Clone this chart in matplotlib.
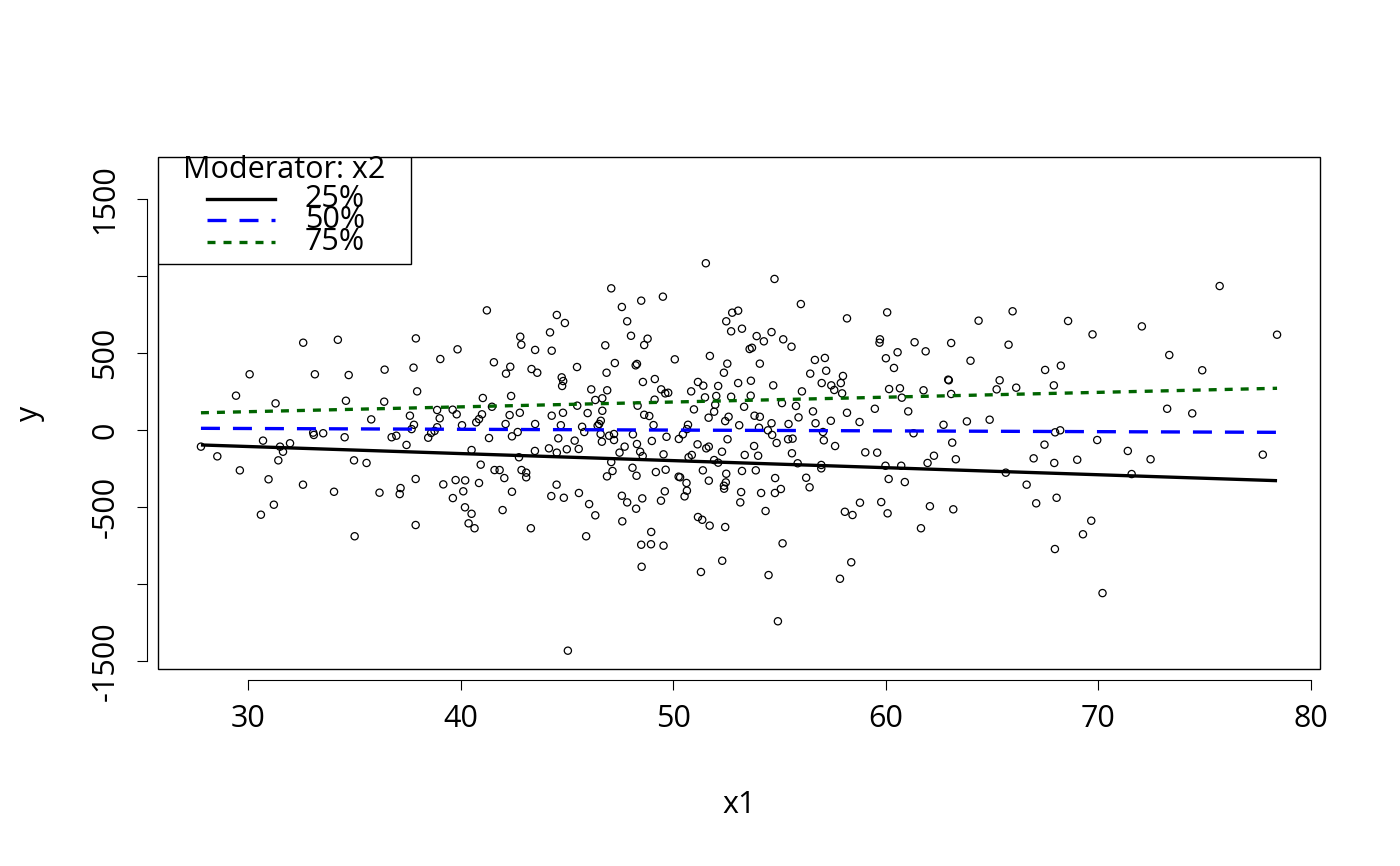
import matplotlib
matplotlib.use("Agg")
import matplotlib.pyplot as plt
from matplotlib.patches import Rectangle

plt.rcParams['font.family'] = ['Open Sans', 'DejaVu Sans']

# points, grouped 10 per row
x1 = [32.60, 34.23, 30.08, 33.15, 34.74, 29.44, 31.30, 34.61, 33.07, 33.10,
      33.54, 34.55, 30.71, 31.51, 31.98, 27.79, 31.65, 28.56, 31.43, 34.99,
      29.62, 30.97, 32.59, 34.05, 31.22, 30.61, 35.02, 41.24, 37.90, 39.86,
      39.05, 36.43, 37.79, 41.57, 42.81, 42.86, 43.51, 44.21, 44.29, 42.34,
      42.14, 43.34, 43.61, 37.96, 36.41, 41.05, 42.38, 35.80, 37.62, 38.90,
      39.02, 39.63, 39.82, 41.48, 42.31, 42.79, 44.29, 37.81, 37.70, 38.90,
      38.78, 38.62, 38.48, 40.07, 40.74, 40.87, 41.01, 42.12, 43.51, 36.76,
      36.98, 37.46, 41.34, 42.42, 42.69, 40.52, 43.50, 44.16, 42.75, 35.58,
      40.95, 41.60, 41.84, 42.06, 42.87, 43.09, 43.09, 37.89, 37.18, 37.14,
      36.19, 39.19, 39.77, 40.22, 40.13, 40.87, 39.64, 42.42, 44.27, 40.21,
      40.52, 41.98, 40.38, 40.66, 37.89, 43.31, 51.54, 47.09, 48.50, 49.52,
      47.59, 44.53, 44.91, 47.84, 48.02, 48.80, 48.64, 46.81, 52.50, 52.78,
      53.06, 52.73, 53.24, 51.73, 50.08, 47.26, 48.24, 48.30, 45.48, 46.87,
      52.55, 52.39, 44.76, 44.83, 44.78, 49.14, 48.58, 51.17, 51.42, 52.12,
      53.06, 46.15, 46.90, 49.44, 49.63, 49.77, 50.85, 51.50, 52.03, 52.73,
      46.34, 46.67, 49.13, 45.49, 48.33, 51.98, 53.34, 46.67, 45.98, 44.82,
      50.98, 51.93, 48.64, 48.88, 51.67, 52.61, 52.45, 46.60, 46.52, 46.45,
      49.08, 44.72, 45.72, 50.70, 50.65, 50.46, 50.27, 53.11, 45.82, 46.59,
      46.99, 47.22, 47.22, 48.11, 49.69, 44.60, 45.37, 46.65, 49.00, 52.56,
      48.30, 51.15, 51.68, 51.56, 45.00, 45.56, 47.72, 44.53, 47.48, 48.45,
      48.57, 49.55, 50.73, 50.88, 52.30, 53.37, 47.09, 47.15, 46.89, 48.09,
      48.28, 49.19, 49.65, 50.26, 50.33, 50.63, 50.65, 50.54, 51.40, 51.68,
      51.93, 52.12, 52.50, 52.48, 52.39, 52.40, 53.24, 53.20, 53.16, 44.52,
      44.86, 45.57, 46.05, 46.34, 47.59, 47.84, 48.26, 48.55, 47.61, 49.61,
      49.43, 45.91, 48.97, 48.50, 48.96, 49.55, 51.17, 51.37, 51.72, 52.45,
      48.52, 51.31, 52.31, 45.05, 54.77, 56.01, 58.18, 60.07, 53.93, 54.27,
      54.63, 53.60, 53.71, 55.18, 55.57, 54.08, 56.67, 57.14, 57.20, 56.45,
      59.73, 59.71, 61.36, 61.88, 60.56, 60.01, 60.39, 53.66, 54.71, 53.65,
      56.06, 56.99, 57.44, 57.58, 57.89, 57.99, 57.95, 60.16, 60.67, 60.76,
      61.78, 55.12, 55.78, 55.90, 56.58, 58.18, 59.49, 61.06, 53.83, 54.08,
      54.04, 54.46, 54.63, 54.66, 55.43, 56.70, 57.42, 58.77, 57.05, 57.09,
      61.31, 54.87, 55.41, 55.62, 53.81, 57.62, 54.00, 55.59, 59.04, 59.60,
      62.27, 55.86, 56.97, 56.97, 59.99, 60.73, 61.97, 53.89, 54.80, 56.26,
      56.42, 60.14, 60.90, 54.14, 54.79, 55.07, 54.35, 58.79, 58.08, 58.44,
      59.79, 60.09, 62.08, 61.66, 55.15, 58.38, 57.85, 54.49, 54.93, 65.97,
      64.37, 68.58, 69.73, 63.08, 65.78, 63.99, 67.50, 68.24, 62.94, 62.97,
      65.36, 65.22, 66.14, 67.91, 63.08, 62.72, 63.82, 64.89, 67.97, 68.21,
      63.13, 67.47, 69.95, 71.39, 63.30, 66.96, 67.93, 69.01, 65.65, 66.63,
      67.08, 68.04, 63.18, 69.67, 69.28, 67.96, 70.20, 71.57, 75.71, 72.05,
      78.41, 73.34, 74.89, 73.24, 74.42, 72.46, 77.74]

y = [567, 586, 362, 362, 357, 223, 173, 190, -17, -32,
     -21, -47, -69, -108, -86, -108, -141, -171, -197, -197,
     -262, -320, -355, -401, -485, -550, -690, 777, 595, 524,
     461, 392, 405, 440, 606, 554, 520, 634, 515, 411,
     366, 396, 372, 251, 184, 208, 221, 69, 93, 130,
     76, 132, 102, 151, 97, 112, 93, 34, 6, 18,
     -6, -19, -50, 31, 50, 71, 102, 39, 39, -47,
     -37, -97, -52, -41, -13, -130, -136, -119, -177, -214,
     -225, -260, -260, -312, -260, -277, -307, -318, -377, -416,
     -407, -353, -325, -327, -398, -344, -442, -401, -429, -502,
     -544, -520, -606, -638, -617, -638, 1083, 920, 840, 866,
     799, 747, 695, 706, 612, 593, 552, 550, 706, 762,
     775, 641, 658, 481, 459, 435, 420, 429, 409, 372,
     431, 372, 342, 318, 286, 331, 312, 312, 288, 286,
     305, 264, 258, 264, 238, 242, 251, 212, 221, 216,
     195, 206, 197, 158, 158, 164, 151, 125, 110, 112,
     134, 119, 99, 91, 80, 86, 58, 60, 39, 28,
     32, 31, 21, 34, 6, -28, -58, 31, -13, -26,
     -37, -26, -65, -28, -44, -54, -69, -76, -71, -60,
     -91, -93, -108, -119, -125, -123, -108, -147, -147, -141,
     -169, -158, -177, -162, -141, -162, -208, -266, -301, -245,
     -297, -273, -258, -303, -307, -344, -394, -431, -262, -329,
     -195, -212, -284, -340, -362, -381, -266, -403, -470, -355,
     -440, -409, -481, -554, -427, -470, -511, -444, -593, -398,
     -459, -690, -662, -745, -742, -751, -565, -583, -621, -630,
     -888, -922, -849, -1433, 981, 818, 725, 764, 610, 576,
     636, 526, 534, 589, 541, 431, 455, 468, 385, 366,
     589, 567, 570, 511, 505, 466, 403, 320, 290, 223,
     251, 305, 290, 260, 305, 351, 238, 266, 271, 210,
     258, 175, 156, 82, 121, 112, 138, 121, 93, 86,
     15, -2, 44, -32, 39, 44, 60, 52, -13, -67,
     -21, -84, -60, -56, -104, -104, -167, -151, -145, -147,
     -167, -216, -227, -249, -232, -232, -214, -262, -312, -310,
     -372, -318, -338, -409, -409, -383, -526, -472, -531, -552,
     -468, -541, -495, -638, -736, -859, -966, -942, -1242, 771,
     710, 708, 621, 565, 554, 450, 390, 418, 327, 323,
     323, 264, 275, 290, 234, 34, 56, 67, -15, -2,
     -82, -95, -65, -136, -190, -184, -214, -193, -277, -355,
     -476, -440, -515, -589, -677, -773, -1059, -286, 935, 673,
     619, 487, 388, 138, 108, -190, -160]

# fitted lines at the three moderator quantiles (ends at min / max of x1)
line_x = [27.79, 78.41]
y_q25 = [-97, -329]
y_q50 = [11, -15]
y_q75 = [112, 271]
quant_labels = ['25%', '50%', '75%']
legend_title = 'Moderator: x2'

x_ticks = [30, 40, 50, 60, 70, 80]
y_ticks = [-1500, -1000, -500, 0, 500, 1000, 1500]
y_ticklabels = ['-1500', '', '-500', '0', '500', '', '1500']

FS = 22

fig = plt.figure(figsize=(14, 8.66), dpi=100)
ax = fig.add_axes([158/1400, 1 - 669/866, 1162/1400, 512/866])

ax.scatter(x1, y, s=27, facecolors='none', edgecolors='black', linewidths=0.9, zorder=2)
ax.plot(line_x, y_q25, color='black', lw=2.4, solid_capstyle='butt', zorder=3)
ax.plot(line_x, y_q50, color='blue', lw=2.4, dashes=(5.7, 3.9), zorder=3)
ax.plot(line_x, y_q75, color='darkgreen', lw=2.4, dashes=(2.4, 2.4), zorder=3)

ax.set_xlim(25.77, 80.43)
ax.set_ylim(-1552, 1773)

# R style: separate box plus detached axes
for s in ['top', 'right']:
    ax.spines[s].set_visible(False)
ax.spines['bottom'].set_position(('outward', 8))
ax.spines['left'].set_position(('outward', 8))
ax.spines['bottom'].set_bounds(30, 80)
ax.spines['left'].set_bounds(-1500, 1500)
ax.add_patch(Rectangle((0, 0), 1, 1, transform=ax.transAxes, fill=False,
                       ec='black', lw=1.0, clip_on=False, zorder=4))

ax.set_xticks(x_ticks)
ax.set_xticklabels([str(t) for t in x_ticks])
ax.set_yticks(y_ticks)
ax.set_yticklabels(y_ticklabels, rotation=90, va='center')
ax.tick_params(length=7, width=0.8, labelsize=FS, pad=10)
ax.tick_params(axis='y', pad=12)

ax.set_xlabel('x1', fontsize=FS, va='center')
ax.xaxis.set_label_coords(0.5, -0.266)
ax.set_ylabel('y', fontsize=FS, va='center', ha='center')
ax.yaxis.set_label_coords(-0.110, 0.5)

# legend box drawn like R's legend()
ax.add_patch(Rectangle((0, 0.791), 0.2177, 0.209, transform=ax.transAxes,
                       facecolor='white', ec='black', lw=1.0, zorder=5))
ax.text(0.1085, 0.975, legend_title, transform=ax.transAxes, ha='center',
        va='center', fontsize=FS, zorder=6)
styles = [dict(color='black'), dict(color='blue', dashes=(5.7, 3.9)),
          dict(color='darkgreen', dashes=(2.4, 2.4))]
rows = [0.918, 0.877, 0.834]
for lab, st, ry in zip(quant_labels, styles, rows):
    ax.plot([0.0422, 0.1007], [ry, ry], transform=ax.transAxes, lw=2.4,
            zorder=6, clip_on=False, **st)
    ax.text(0.1265, ry, lab, transform=ax.transAxes, ha='left', va='center',
            fontsize=FS, zorder=6)

fig.savefig('out.png', dpi=100)
